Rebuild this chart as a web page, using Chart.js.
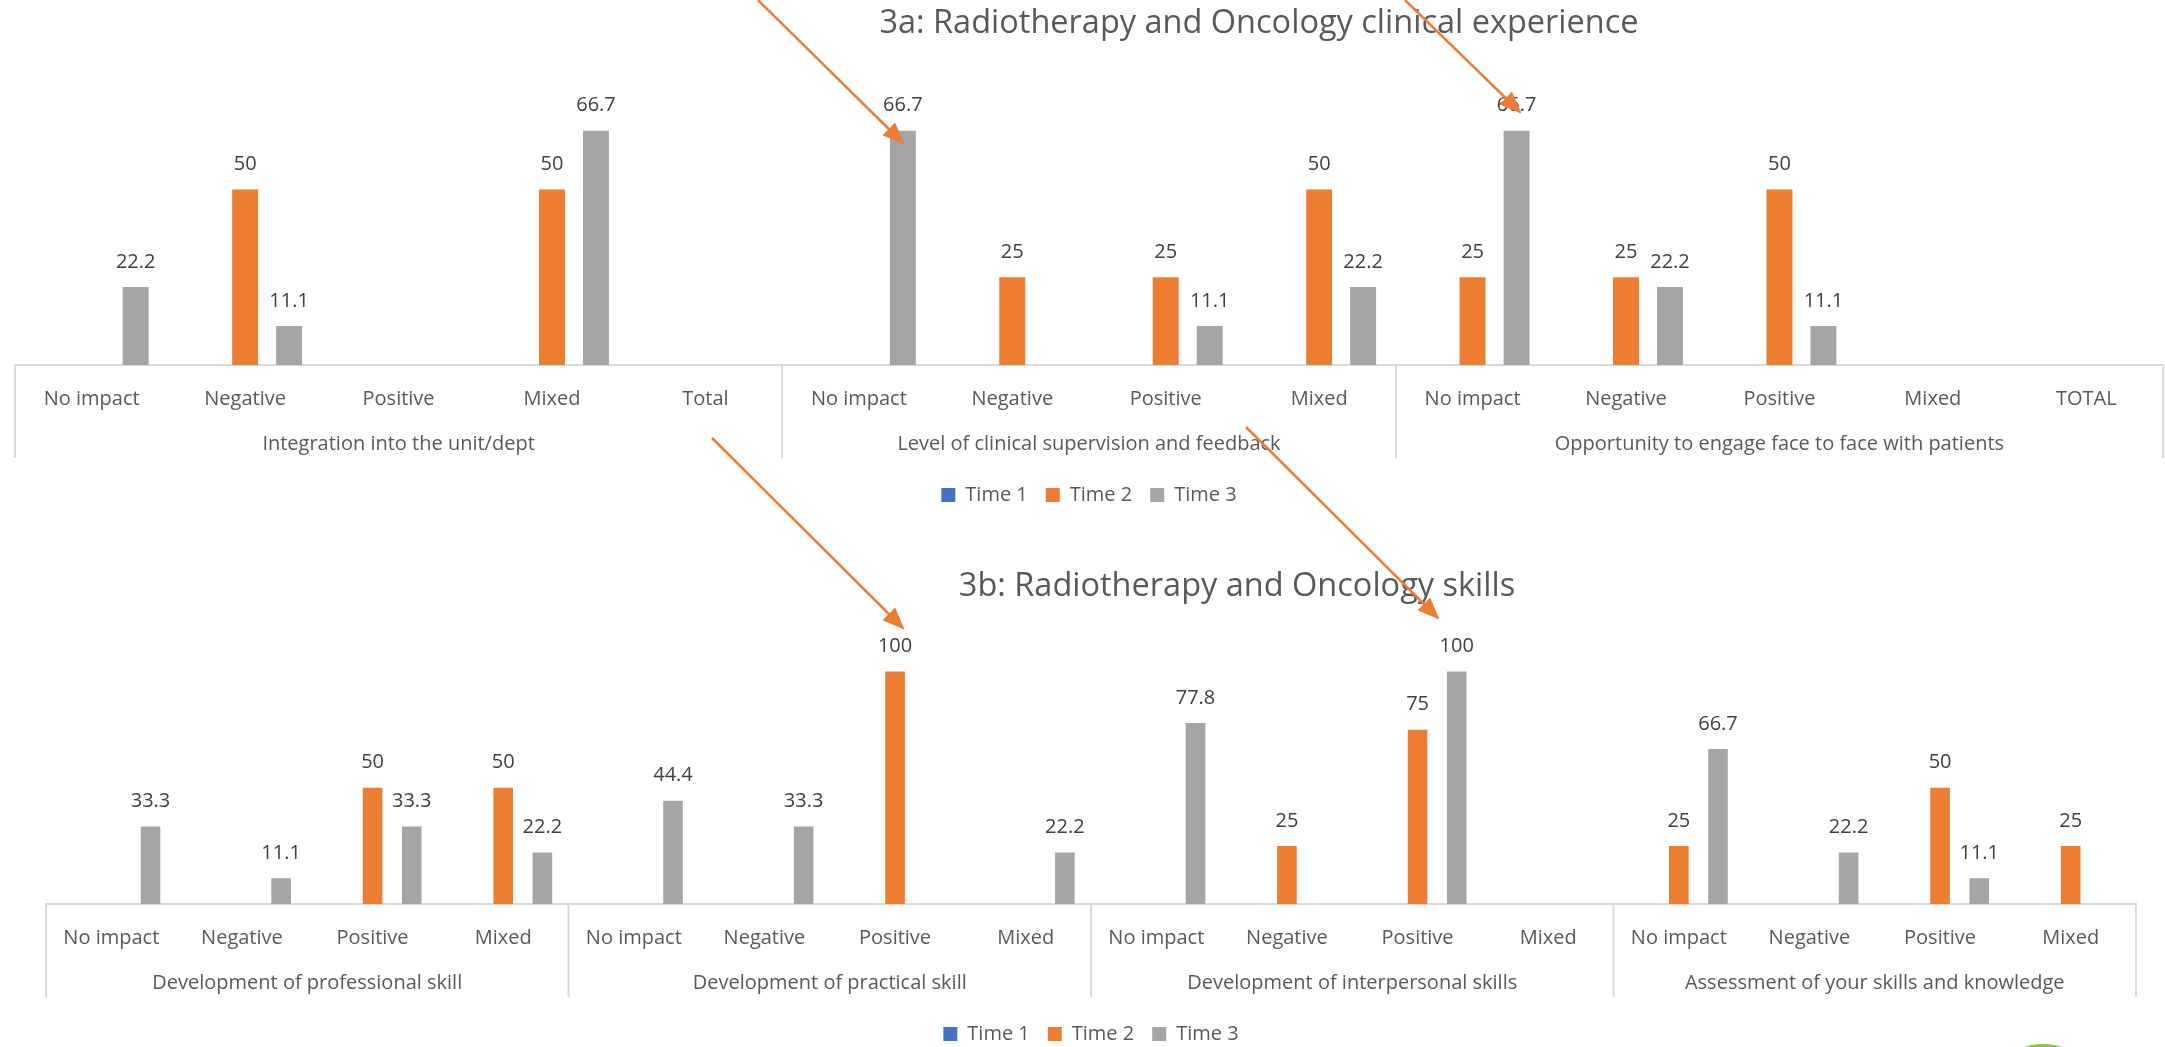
<!DOCTYPE html>
<html>
<head>
<meta charset="utf-8">
<title>Radiotherapy and Oncology</title>
<script src="https://cdn.jsdelivr.net/npm/chart.js@4.4.1/dist/chart.umd.min.js"></script>
<style>
  html, body { margin: 0; padding: 0; background: #fff; overflow: hidden; }
  #page { position: relative; width: 2165px; height: 1047px; overflow: hidden; }
  #topChart { position: absolute; left: 0; top: 0; }
  #bottomChart { position: absolute; left: 0; top: 522px; }
  #arrows { position: absolute; left: 0; top: 0; pointer-events: none; }
  .blob { position: absolute; left: 2010px; top: 1044px; width: 66px; height: 30px; border-radius: 50%; border-top: 3px solid #8cc04a; }
</style>
</head>
<body>
<div id="page">
  <canvas id="topChart" width="2165" height="515"></canvas>
  <canvas id="bottomChart" width="2165" height="532"></canvas>
  <svg id="arrows" width="2165" height="1047">
    <defs>
      <marker id="head" markerUnits="userSpaceOnUse" markerWidth="22" markerHeight="18" refX="20" refY="9" orient="auto">
        <path d="M0,0 L22,9 L0,18 Z" fill="#ED7D31"></path>
      </marker>
    </defs>
  </svg>
  <div class="blob"></div>
</div>

<script>
// ---- data: 3a clinical experience ----
const topTitle = '3a: Radiotherapy and Oncology clinical experience';
const topGroups = ['Integration into the unit/dept', 'Level of clinical supervision and feedback', 'Opportunity to engage face to face with patients'];
const topGroupSizes = [5, 4, 5];
const topLabels = ['No impact', 'Negative', 'Positive', 'Mixed', 'Total',
                   'No impact', 'Negative', 'Positive', 'Mixed',
                   'No impact', 'Negative', 'Positive', 'Mixed', 'TOTAL'];
const topTime1 = [null, null, null, null, null, null, null, null, null, null, null, null, null, null];
const topTime2 = [null, 50, null, 50, null, null, 25, 25, 50, 25, 25, 50, null, null];
const topTime3 = [22.2, 11.1, null, 66.7, null, 66.7, null, 11.1, 22.2, 66.7, 22.2, 11.1, null, null];

// ---- data: 3b skills ----
const bottomTitle = '3b: Radiotherapy and Oncology skills';
const bottomGroups = ['Development of professional skill', 'Development of practical skill', 'Development of interpersonal skills', 'Assessment of your skills and knowledge'];
const bottomGroupSizes = [4, 4, 4, 4];
const bottomLabels = ['No impact', 'Negative', 'Positive', 'Mixed',
                      'No impact', 'Negative', 'Positive', 'Mixed',
                      'No impact', 'Negative', 'Positive', 'Mixed',
                      'No impact', 'Negative', 'Positive', 'Mixed'];
const bottomTime1 = [null, null, null, null, null, null, null, null, null, null, null, null, null, null, null, null];
const bottomTime2 = [null, null, 50, 50, null, null, 100, null, null, 25, 75, null, 25, null, 50, 25];
const bottomTime3 = [33.3, 11.1, 33.3, 22.2, 44.4, 33.3, null, 22.2, 77.8, null, 100, null, 66.7, 22.2, 11.1, null];

const seriesNames = ['Time 1', 'Time 2', 'Time 3'];
const seriesColors = ['#4472C4', '#ED7D31', '#A5A5A5'];

const FONT = '"Open Sans", "Noto Sans", sans-serif';
const TEXT = '#595959';
const LINE = '#D9D9D9';

// title drawn at a shifted centre, like the Excel original
const shiftedTitle = {
  id: 'shiftedTitle',
  afterDraw(chart, args, opts) {
    const ctx = chart.ctx, a = chart.chartArea;
    ctx.save();
    ctx.font = opts.size + 'px ' + FONT;
    ctx.fillStyle = TEXT;
    ctx.textAlign = 'center';
    ctx.textBaseline = 'middle';
    ctx.fillText(opts.text, (a.left + a.right) / 2 + opts.shift, opts.y);
    ctx.restore();
  }
};

// value labels above each bar
const valueLabels = {
  id: 'valueLabels',
  afterDatasetsDraw(chart) {
    const ctx = chart.ctx;
    ctx.save();
    ctx.font = '20px ' + FONT;
    ctx.fillStyle = '#404040';
    ctx.textAlign = 'center';
    ctx.textBaseline = 'middle';
    chart.data.datasets.forEach((ds, i) => {
      const meta = chart.getDatasetMeta(i);
      meta.data.forEach((bar, j) => {
        const v = ds.data[j];
        if (v === null || v === undefined) return;
        ctx.fillText(String(v), bar.x, bar.y - 25);
      });
    });
    ctx.restore();
  }
};

// second level of the category axis: group names and dividers
const groupAxis = {
  id: 'groupAxis',
  afterDraw(chart, args, opts) {
    const x = chart.scales.x, ctx = chart.ctx;
    const n = chart.data.labels.length;
    const w = x.width / n;
    const top = x.top;
    ctx.save();
    ctx.strokeStyle = LINE;
    ctx.lineWidth = 2;
    ctx.font = '20px ' + FONT;
    ctx.fillStyle = TEXT;
    ctx.textAlign = 'center';
    ctx.textBaseline = 'middle';
    let start = 0;
    opts.sizes.forEach((size, g) => {
      const left = x.getPixelForValue(start) - w / 2;
      const right = x.getPixelForValue(start + size - 1) + w / 2;
      ctx.beginPath();
      ctx.moveTo(left, top);
      ctx.lineTo(left, top + opts.depth);
      ctx.stroke();
      if (g === opts.sizes.length - 1) {
        ctx.beginPath();
        ctx.moveTo(right, top);
        ctx.lineTo(right, top + opts.depth);
        ctx.stroke();
      }
      ctx.fillText(opts.names[g], (left + right) / 2, top + opts.labelY);
      start += size;
    });
    ctx.restore();
  }
};

function makeChart(id, cfg) {
  const datasets = [cfg.t1, cfg.t2, cfg.t3].map((d, i) => ({
    label: seriesNames[i],
    data: d,
    backgroundColor: seriesColors[i],
    borderWidth: 0,
    categoryPercentage: cfg.catPct,
    barPercentage: cfg.barPct
  }));
  return new Chart(document.getElementById(id), {
    type: 'bar',
    data: { labels: cfg.labels, datasets: datasets },
    plugins: [shiftedTitle, valueLabels, groupAxis],
    options: {
      responsive: false,
      animation: false,
      layout: { padding: cfg.padding },
      scales: {
        x: {
          grid: { display: false, drawTicks: false },
          border: { display: true, color: LINE, width: 2 },
          ticks: { autoSkip: false, maxRotation: 0, padding: 22, color: TEXT, font: { family: FONT, size: 20 } },
          afterFit: s => { s.height = cfg.axisHeight; }
        },
        y: { display: false, min: 0, max: cfg.yMax }
      },
      plugins: {
        title: { display: false },
        tooltip: { enabled: false },
        legend: {
          position: 'bottom',
          labels: { boxWidth: 14, boxHeight: 14, padding: 18, color: TEXT, font: { family: FONT, size: 20 } }
        },
        shiftedTitle: { text: cfg.title, shift: cfg.titleShift, y: cfg.titleY, size: cfg.titleSize },
        groupAxis: { names: cfg.groups, sizes: cfg.groupSizes, depth: 93, labelY: 79 }
      }
    }
  });
}

makeChart('topChart', {
  labels: topLabels, t1: topTime1, t2: topTime2, t3: topTime3,
  groups: topGroups, groupSizes: topGroupSizes,
  title: topTitle, titleShift: 170, titleY: 24, titleSize: 32.5,
  padding: { left: 15, right: 2, top: 84, bottom: 0 },
  axisHeight: 102, yMax: 80, catPct: 0.86, barPct: 0.59
});

makeChart('bottomChart', {
  labels: bottomLabels, t1: bottomTime1, t2: bottomTime2, t3: bottomTime3,
  groups: bottomGroups, groupSizes: bottomGroupSizes,
  title: bottomTitle, titleShift: 146, titleY: 65, titleSize: 32.5,
  padding: { left: 46, right: 29, top: 103, bottom: 0 },
  axisHeight: 102, yMax: 120, catPct: 0.9, barPct: 0.5
});

// orange annotation arrows laid over both charts
const arrowLines = [
  [758, 0, 903, 143],
  [1405, 0, 1520, 112],
  [712, 438, 903, 628],
  [1246, 427, 1438, 618]
];
const svg = document.getElementById('arrows');
arrowLines.forEach(a => {
  const l = document.createElementNS('http://www.w3.org/2000/svg', 'line');
  l.setAttribute('x1', a[0]); l.setAttribute('y1', a[1]);
  l.setAttribute('x2', a[2]); l.setAttribute('y2', a[3]);
  l.setAttribute('stroke', '#ED7D31');
  l.setAttribute('stroke-width', '2.5');
  l.setAttribute('marker-end', 'url(#head)');
  svg.appendChild(l);
});
</script>
</body>
</html>
